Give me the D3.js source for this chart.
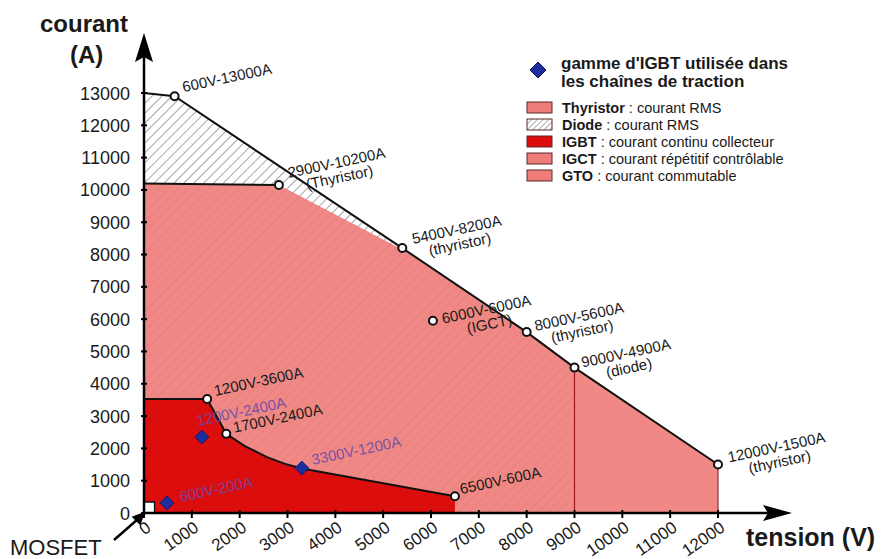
<!DOCTYPE html>
<html>
<head>
<meta charset="utf-8">
<script src="https://d3js.org/d3.v7.min.js"></script>
<style>
  body { margin: 0; background: #fff; font-family: "Liberation Sans", Arial, sans-serif; }
  text { fill: #1a1a1a; }
</style>
</head>
<body>
<script>
// limits: [tension (V), courant (A)]
const diodeZone = [[0, 13000], [640, 12900], [5400, 8200], [8000, 5600], [9000, 4500], [9000, 0], [0, 0]];
const envelope = [[0, 13000], [640, 12900], [5400, 8200], [8000, 5600], [9000, 4500], [12000, 1500]];
const pinkZone = [[0, 10200], [2820, 10150], [5600, 8000], [8000, 5600], [9000, 4500], [12000, 1500], [12000, 0], [0, 0]];
const igbtZone = [[0, 3530], [1320, 3530], [1720, 2450], [2100, 2080], [2570, 1730], [2950, 1520], [3300, 1380], [6500, 520], [6500, 0], [0, 0]];
const mosfetZone = [[0, 0], [220, 0], [220, 340], [0, 340]];

const ratingPoints = [[640, 12900], [2820, 10150], [5400, 8200], [6040, 5950], [8000, 5600], [9000, 4500], [12000, 1500], [1320, 3530], [1720, 2450], [6500, 520]];
const ratingLabels = [["600V-13000A"], ["2900V-10200A", "(Thyristor)"], ["5400V-8200A", "(thyristor)"], ["6000V-6000A", "(IGCT)"],
  ["8000V-5600A", "(thyristor)"], ["9000V-4900A", "(diode)"], ["12000V-1500A", "(thyristor)"], ["1200V-3600A"], ["1700V-2400A"], ["6500V-600A"]];

const igbtPoints = [[1210, 2350], [3300, 1390], [480, 310]];
const igbtLabels = ["1200V-2400A", "3300V-1200A", "600V-200A"];

const xTicks = d3.range(0, 12001, 1000);
const yTicks = d3.range(0, 13001, 1000);

const legendTitle = ["gamme d'IGBT utilisée dans", "les chaînes de traction"];
const legendNames = ["Thyristor", "Diode", "IGBT", "IGCT", "GTO"];
const legendTexts = [" : courant RMS", " : courant RMS", " : courant continu collecteur", " : courant répétitif contrôlable", " : courant commutable"];

const W = 882, H = 559;
const x = d3.scaleLinear().domain([0, 12000]).range([144, 718]);
const y = d3.scaleLinear().domain([0, 13000]).range([513, 93]);
const line = d3.line().x(d => x(d[0])).y(d => y(d[1]));

const pink = "#ee7c78", red = "#dc0d0d", blue = "#1c2e9e", purple = "#6a4aa8";

const svg = d3.select("body").append("svg").attr("width", W).attr("height", H);
const defs = svg.append("defs");

function hatchPattern(id, size, color) {
  const p = defs.append("pattern").attr("id", id)
    .attr("patternUnits", "userSpaceOnUse")
    .attr("width", size).attr("height", size)
    .attr("patternTransform", "rotate(45)");
  p.append("rect").attr("width", size).attr("height", size).attr("fill", "#fff");
  p.append("line").attr("x1", 0).attr("y1", 0).attr("x2", 0).attr("y2", size)
    .attr("stroke", color).attr("stroke-width", 1.2);
}
hatchPattern("hatch", 7, "#6a6a6a");
hatchPattern("hatchSmall", 4, "#777");

// zones
svg.append("path").attr("d", line(diodeZone) + "Z").attr("fill", "url(#hatch)");
svg.append("path").attr("d", line(pinkZone) + "Z").attr("fill", pink).attr("fill-opacity", 0.9);

// 9000 V and 12000 V verticals
svg.append("line").attr("x1", x(9000)).attr("x2", x(9000)).attr("y1", y(4500)).attr("y2", y(0))
  .attr("stroke", "#9a1c1c").attr("stroke-width", 1.2);
svg.append("line").attr("x1", x(12000)).attr("x2", x(12000)).attr("y1", y(1500)).attr("y2", y(0))
  .attr("stroke", "#8a3030").attr("stroke-width", 1.2);

svg.append("path").attr("d", line(igbtZone) + "Z").attr("fill", red);

// outlines
svg.append("path").attr("d", line(envelope)).attr("fill", "none").attr("stroke", "#111").attr("stroke-width", 2);
svg.append("path").attr("d", line(pinkZone.slice(0, 2))).attr("fill", "none").attr("stroke", "#111").attr("stroke-width", 2);
svg.append("path").attr("d", line(igbtZone.slice(0, 8))).attr("fill", "none").attr("stroke", "#111").attr("stroke-width", 2);

// MOSFET square
svg.append("path").attr("d", line(mosfetZone) + "Z").attr("fill", "#fff").attr("stroke", "#111").attr("stroke-width", 1.3);

// axes
const x0 = x(0), y0 = y(0);
svg.append("line").attr("x1", x0).attr("x2", x0).attr("y1", y0 + 2).attr("y2", 55).attr("stroke", "#000").attr("stroke-width", 2.5);
svg.append("path").attr("d", `M${x0},33 L${x0 + 9},62 L${x0},57 L${x0 - 9},62 Z`).attr("fill", "#000");
svg.append("line").attr("x1", x0 - 1).attr("x2", 770).attr("y1", y0).attr("y2", y0).attr("stroke", "#000").attr("stroke-width", 2.5);
svg.append("path").attr("d", `M792,${y0} L763,${y0 - 8} L768,${y0} L763,${y0 + 8} Z`).attr("fill", "#000");

svg.append("g").selectAll("line").data(yTicks).join("line")
  .attr("x1", x0 - 3).attr("x2", x0 + 3).attr("y1", d => y(d)).attr("y2", d => y(d))
  .attr("stroke", "#000").attr("stroke-width", 2);
svg.append("g").selectAll("text").data(yTicks).join("text")
  .attr("x", 130).attr("y", d => y(d) + 6.5).attr("text-anchor", "end")
  .attr("font-size", 18).text(d => d);

svg.append("g").selectAll("line").data(xTicks).join("line")
  .attr("x1", d => x(d)).attr("x2", d => x(d)).attr("y1", y0 - 3).attr("y2", y0 + 5)
  .attr("stroke", "#000").attr("stroke-width", 2);
svg.append("g").selectAll("text").data(xTicks).join("text")
  .attr("transform", d => `translate(${x(d) + 8},${y0 + 17}) rotate(-35)`)
  .attr("text-anchor", "end").attr("font-size", 17).text(d => d);

// axis titles
svg.append("text").attr("x", 40).attr("y", 32).attr("font-size", 24).attr("font-weight", "bold").text("courant");
svg.append("text").attr("x", 70).attr("y", 63).attr("font-size", 24).attr("font-weight", "bold").text("(A)");
svg.append("text").attr("x", 746).attr("y", 546).attr("font-size", 25).attr("font-weight", "bold").text("tension (V)");
svg.append("text").attr("x", 10).attr("y", 555).attr("font-size", 22).text("MOSFET");
svg.append("line").attr("x1", 114).attr("y1", 540).attr("x2", 138).attr("y2", 519).attr("stroke", "#000").attr("stroke-width", 2.5);
svg.append("path").attr("d", "M144,513 L133,517 L140,524 Z").attr("fill", "#000").attr("stroke", "#000").attr("stroke-width", 1.5);

// rating circles and labels
const labelOffset = [[9, -4], [10, -7], [11, -4], [10, 3], [9, -1], [8, 0], [11, -2], [8, -3], [8, -1], [6, -2]];
ratingPoints.forEach((p, i) => {
  svg.append("circle").attr("cx", x(p[0])).attr("cy", y(p[1])).attr("r", 4)
    .attr("fill", "#fff").attr("stroke", "#111").attr("stroke-width", 2);
  const g = svg.append("g")
    .attr("transform", `translate(${x(p[0]) + labelOffset[i][0]},${y(p[1]) + labelOffset[i][1]}) rotate(-12)`);
  const t1 = g.append("text").attr("font-size", 15).text(ratingLabels[i][0]);
  if (ratingLabels[i][1]) {
    const w = t1.node().getComputedTextLength();
    g.append("text").attr("x", w / 2).attr("y", 15).attr("text-anchor", "middle")
      .attr("font-size", 15).text(ratingLabels[i][1]);
  }
});

// IGBT diamonds
const igbtOffset = [[-4, -11], [11, -3], [14, -1]];
igbtPoints.forEach((p, i) => {
  const cx = x(p[0]), cy = y(p[1]);
  svg.append("path").attr("d", `M${cx},${cy - 7} L${cx + 7},${cy} L${cx},${cy + 7} L${cx - 7},${cy} Z`)
    .attr("fill", blue).attr("stroke", "#0d1660").attr("stroke-width", 0.8);
  svg.append("text")
    .attr("transform", `translate(${cx + igbtOffset[i][0]},${cy + igbtOffset[i][1]}) rotate(-12)`)
    .attr("font-size", 15).style("fill", purple).attr("fill-opacity", 0.9).text(igbtLabels[i]);
});

// legend
const lg = svg.append("g");
lg.append("path").attr("d", "M538,62 L546,70 L538,78 L530,70 Z").attr("fill", blue).attr("stroke", "#0d1660");
lg.selectAll("text.title").data(legendTitle).join("text").attr("class", "title")
  .attr("x", 561).attr("y", (d, i) => 69 + i * 18)
  .attr("font-size", 17).attr("font-weight", "bold").text(d => d);

const legendFill = [pink, "url(#hatchSmall)", red, pink, pink];
legendNames.forEach((n, i) => {
  const by = 113 + i * 17;
  lg.append("rect").attr("x", 527).attr("y", by - 11).attr("width", 25).attr("height", 11)
    .attr("fill", legendFill[i]).attr("stroke", "#5a2a2a").attr("stroke-width", 1);
  const t = lg.append("text").attr("x", 562).attr("y", by).attr("font-size", 14.5);
  t.append("tspan").attr("font-weight", "bold").text(n);
  t.append("tspan").text(legendTexts[i]);
});
</script>
</body>
</html>
